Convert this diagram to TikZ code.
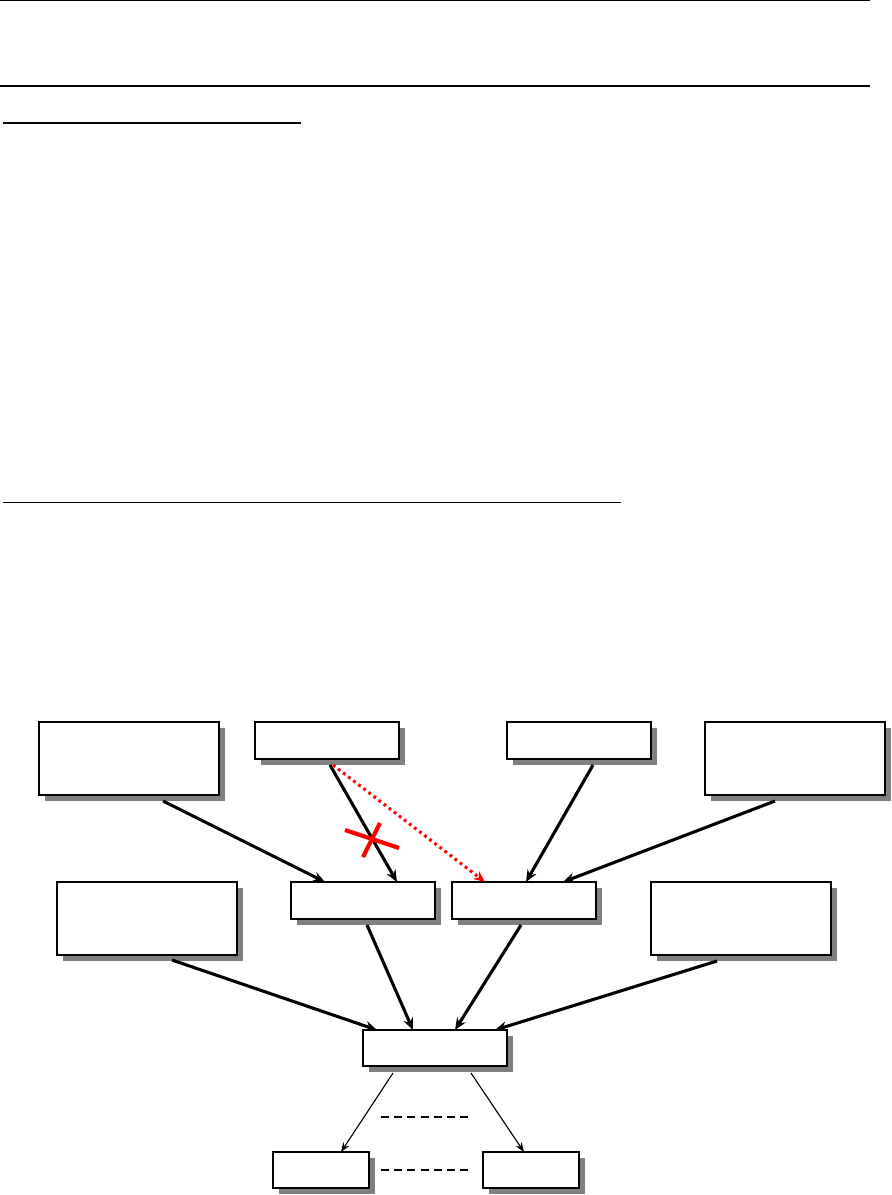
\documentclass[tikz,border=0pt]{standalone}
\usepackage{amsmath, amssymb}
\usepackage{tikz}
\usetikzlibrary{arrows.meta, shadows, calc}

\begin{document}
\begin{tikzpicture}[x=0.025cm, y=-0.025cm, >=Stealth,
		blk/.style={draw, fill=white, line width=1pt, inner sep=0pt, outer sep=0pt,
			drop shadow={shadow xshift=0.15cm, shadow yshift=-0.15cm, fill=black!50, opacity=1}},
		tallbox/.style={blk, minimum width=4.5cm, minimum height=1.825cm},
		flatbox/.style={blk, minimum width=3.6cm, minimum height=0.925cm},
		leafbox/.style={blk, minimum width=2.4cm, minimum height=0.9cm},
		link/.style={->, line width=2.2pt, >={Stealth[length=0.3cm, width=0.25cm, inset=0.1cm]}},
		fork/.style={->, line width=0.8pt, >={Stealth[length=0.24cm, width=0.18cm]}},
		cut/.style={red, line width=3pt},
		gap/.style={line width=1.1pt, dash pattern=on 0.2cm off 0.13cm}]
				\useasboundingbox (0,0) rectangle (892,1195);
				
				% rules of the page
				\draw [line width=0.8pt] (0,0.6) -- (870,0.6);
				\draw [line width=1.6pt] (0,86) -- (870,86);
				\draw [line width=1.6pt] (3,123) -- (301,123);
				\draw [line width=1.1pt] (3,502.5) -- (621,502.5);
				
				% upper row
				\node [tallbox] (srcA) at (129,758.5) {};
				\node [flatbox] (srcB) at (327,740.5) {};
				\node [flatbox] (srcE) at (579,740.5) {};
				\node [tallbox] (srcF) at (795,758.5) {};
				
				% middle row
				\node [tallbox] (midC) at (147,918.5) {};
				\node [flatbox] (midD) at (363,900.5) {};
				\node [flatbox] (midG) at (524,900.5) {};
				\node [tallbox] (midH) at (741,918.5) {};
				
				% hub and leaves
				\node [flatbox, minimum height=0.9cm] (hub) at (435,1048) {};
				\node [leafbox] (leafJ) at (321,1170) {};
				\node [leafbox] (leafK) at (531,1170) {};
				
				\draw [link] ($(srcA.south)+(34,6)$) -- ($(midD.north)+(-38,0)$);
				\draw [link] ($(srcB.south)+(3,6)$) -- ($(midD.north)+(34,0)$);
				\draw [link] ($(srcE.south)+(14,6)$) -- ($(midG.north)+(2,0)$);
				\draw [link] ($(srcF.south)+(-20,6)$) -- ($(midG.north)+(39,0)$);
				\draw [->, red, line width=2.2pt, dash pattern=on 0.07cm off 0.09cm,
					>={Stealth[length=0.28cm, width=0.24cm, inset=0.09cm]}]
					($(srcB.south)+(6,6)$) -- ($(midG.north)+(-39,0)$);
				
				% the broken link
				\draw [cut] (345,830) -- (399,848);
				\draw [cut] (380,823) -- (363,857);
				
				\draw [link] ($(midC.south)+(25,5)$) -- ($(hub.north)+(-58,0)$);
				\draw [link] ($(midD.south)+(4,6)$) -- ($(hub.north)+(-22,0)$);
				\draw [link] ($(midG.south)+(-3,6)$) -- ($(hub.north)+(20,0)$);
				\draw [link] ($(midH.south)+(-24,6)$) -- ($(hub.north)+(60,0)$);
				
				\draw [fork] ($(hub.south)+(-42,7)$) -- ($(leafJ.north)+(20,0)$);
				\draw [fork] ($(hub.south)+(36,7)$) -- ($(leafK.north)+(-7,0)$);
				\draw [gap] (381,1117) -- (471,1117);
				\draw [gap] ($(leafJ.east)+(12,0)$) -- ($(leafK.west)+(-12,0)$);
			\end{tikzpicture}
\end{document}
